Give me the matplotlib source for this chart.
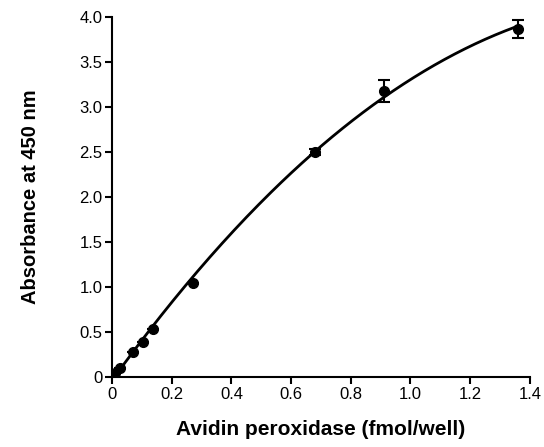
import numpy as np
import matplotlib
matplotlib.use('Agg')
from matplotlib import pyplot as plt

plt.rcParams['font.family'] = ['Liberation Sans', 'DejaVu Sans']

# data
conc = np.array([0.004, 0.010, 0.027, 0.071, 0.103, 0.136, 0.270, 0.68, 0.91, 1.36])
absb = np.array([0.02, 0.04, 0.10, 0.28, 0.39, 0.53, 1.04, 2.50, 3.18, 3.87])
err = np.array([0.0, 0.0, 0.0, 0.0, 0.0, 0.0, 0.0, 0.03, 0.12, 0.10])

xticks = [0, 0.2, 0.4, 0.6, 0.8, 1.0, 1.2, 1.4]
xticklabels = ['0', '0.2', '0.4', '0.6', '0.8', '1.0', '1.2', '1.4']
yticks = [0, 0.5, 1.0, 1.5, 2.0, 2.5, 3.0, 3.5, 4.0]
yticklabels = ['0', '0.5', '1.0', '1.5', '2.0', '2.5', '3.0', '3.5', '4.0']

# quadratic fit to the points
p = np.polyfit(conc, absb, 2)
xfit = np.linspace(0, conc.max(), 200)
yfit = np.polyval(p, xfit)

fig = plt.figure(figsize=(5.44, 4.47), dpi=100)
ax = fig.add_axes([0.206, 0.157, 0.768, 0.805])
ax.plot(xfit, yfit, 'k-', linewidth=2)
ax.errorbar(conc, absb, yerr=err, fmt='o', color='k', markersize=7,
            capsize=4, elinewidth=1.5, capthick=1.5)

ax.set_xlim(0, 1.4)
ax.set_ylim(0, 4.0)
ax.set_xticks(xticks)
ax.set_xticklabels(xticklabels)
ax.set_yticks(yticks)
ax.set_yticklabels(yticklabels)
ax.spines['top'].set_visible(False)
ax.spines['right'].set_visible(False)
ax.spines['left'].set_linewidth(1.5)
ax.spines['bottom'].set_linewidth(1.5)
ax.tick_params(direction='out', length=5, width=1.5, labelsize=12, pad=2)
ax.set_xlabel('Avidin peroxidase (fmol/well)', fontsize=15, fontweight='bold', labelpad=13)
ax.set_ylabel('Absorbance at 450 nm', fontsize=14.5, fontweight='bold', labelpad=28)
for s in ax.spines.values():
    s.set_clip_on(False)

fig.savefig('out.png', dpi=100)
